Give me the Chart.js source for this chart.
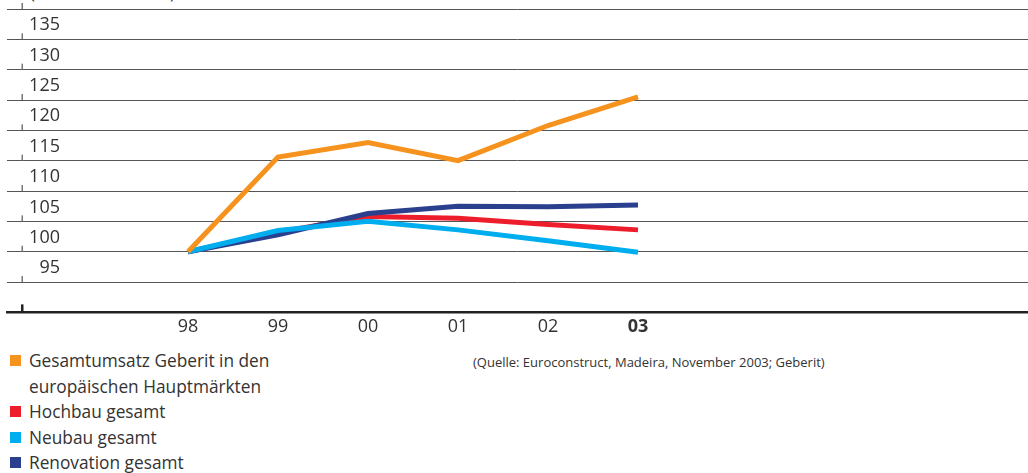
<!DOCTYPE html>
<html>
<head>
<meta charset="utf-8">
<script src="https://cdn.jsdelivr.net/npm/chart.js@4.4.0/dist/chart.umd.min.js"></script>
<style>
    body { margin: 0; background: #fff; font-family: "Open Sans", sans-serif; color: #333; overflow: hidden; }
    #wrap { position: relative; width: 1028px; height: 473px; }
    #chartBox { position: absolute; left: 0; top: 0; width: 1028px; height: 345px; }
    #unit { position: absolute; left: 30px; top: -16px; font-size: 17px; line-height: 17px; white-space: nowrap; }
    #legend { position: absolute; left: 10px; top: 348px; font-size: 17.3px; line-height: 25.5px; }
    #legend .item { position: relative; padding-left: 19px; }
    #legend .sw { position: absolute; left: 0; top: 7px; width: 11px; height: 11px; }
    #source { position: absolute; left: 473px; top: 353px; font-size: 13px; white-space: nowrap; }
</style>
</head>
<body>
<div id="wrap">
    <div id="unit">(Index 1998 = 100)</div>
    <div id="chartBox"><canvas id="lineChart"></canvas></div>
    <div id="legend"></div>
    <div id="source">(Quelle: Euroconstruct, Madeira, November 2003; Geberit)</div>
</div>
<script>
    // Data (Index 1998 = 100)
    const categories = ['98', '99', '00', '01', '02', '03'];
    const gesamtumsatz = [100, 115.6, 118.0, 115.0, 120.8, 125.5];
    const hochbau = [100, 103.2, 105.8, 105.5, 104.5, 103.6];
    const neubau = [100, 103.5, 105.0, 103.6, 101.8, 99.9];
    const renovation = [100, 102.8, 106.3, 107.5, 107.4, 107.7];
    const yTicks = [90, 95, 100, 105, 110, 115, 120, 125, 130, 135, 140];
    const yLabels = [95, 100, 105, 110, 115, 120, 125, 130, 135];

    const series = [
        { label: 'Gesamtumsatz Geberit in den europäischen Hauptmärkten', data: gesamtumsatz, color: '#F6921E', order: 1 },
        { label: 'Hochbau gesamt', data: hochbau, color: '#EE1D2B', order: 4 },
        { label: 'Neubau gesamt', data: neubau, color: '#00AEEF', order: 2 },
        { label: 'Renovation gesamt', data: renovation, color: '#2A3F8E', order: 3 }
    ];

    // y labels sit above their gridline, with a small tick on the left
    const yLabelPlugin = {
        id: 'yLabelPlugin',
        afterDraw(chart) {
            const ctx = chart.ctx;
            const y = chart.scales.y;
            ctx.save();
            yTicks.forEach(function(v) {
                const py = y.getPixelForValue(v);
                if (v === 90) {
                    ctx.fillStyle = '#222';
                    ctx.fillRect(21, py - 8, 2.5, 8);
                } else {
                    ctx.fillStyle = '#777';
                    ctx.fillRect(21.5, py - 6, 1.5, 6);
                }
            });
            ctx.fillStyle = '#333';
            ctx.font = '18px "Open Sans"';
            ctx.textAlign = 'right';
            ctx.textBaseline = 'middle';
            yLabels.forEach(function(v) {
                ctx.fillText(String(v), 60, y.getPixelForValue(v) - 14);
            });
            ctx.restore();
        }
    };

    const ctx = document.getElementById('lineChart').getContext('2d');
    new Chart(ctx, {
        type: 'line',
        data: {
            datasets: series.map(function(s) {
                return {
                    label: s.label,
                    data: s.data.map(function(v, i) { return { x: i, y: v }; }),
                    borderColor: s.color,
                    backgroundColor: s.color,
                    borderWidth: 5,
                    borderCapStyle: 'butt',
                    pointRadius: 0,
                    tension: 0,
                    order: s.order
                };
            })
        },
        options: {
            responsive: true,
            maintainAspectRatio: false,
            animation: false,
            layout: { padding: { left: 7, right: 0, top: 9, bottom: 3 } },
            plugins: { legend: { display: false }, tooltip: { enabled: false } },
            scales: {
                x: {
                    type: 'linear',
                    min: -2.011,
                    max: 9.333,
                    afterBuildTicks: function(scale) {
                        scale.ticks = categories.map(function(c, i) { return { value: i }; });
                    },
                    grid: { display: false, drawTicks: false },
                    border: { display: true, color: '#222', width: 2.5 },
                    ticks: {
                        padding: 4,
                        color: '#333',
                        maxRotation: 0,
                        autoSkip: false,
                        callback: function(value) { return categories[value]; },
                        font: function(c) {
                            const last = c.tick && c.tick.value === categories.length - 1;
                            return { family: '"Open Sans"', size: 18, weight: last ? 'bold' : 'normal' };
                        }
                    }
                },
                y: {
                    min: 90,
                    max: 140,
                    afterBuildTicks: function(scale) {
                        scale.ticks = yTicks.map(function(v) { return { value: v }; });
                    },
                    grid: {
                        drawTicks: false,
                        color: '#555',
                        lineWidth: function(c) { return c.tick && c.tick.value === 90 ? 0 : 1; }
                    },
                    border: { display: false },
                    ticks: { display: false }
                }
            }
        },
        plugins: [yLabelPlugin]
    });

    // Legend
    const legend = document.getElementById('legend');
    series.forEach(function(s) {
        const item = document.createElement('div');
        item.className = 'item';
        const sw = document.createElement('span');
        sw.className = 'sw';
        sw.style.background = s.color;
        item.appendChild(sw);
        if (s.label.indexOf('Hauptmärkten') > -1) {
            item.appendChild(document.createTextNode('Gesamtumsatz Geberit in den'));
            item.appendChild(document.createElement('br'));
            item.appendChild(document.createTextNode('europäischen Hauptmärkten'));
        } else {
            item.appendChild(document.createTextNode(s.label));
        }
        legend.appendChild(item);
    });
</script>
</body>
</html>
